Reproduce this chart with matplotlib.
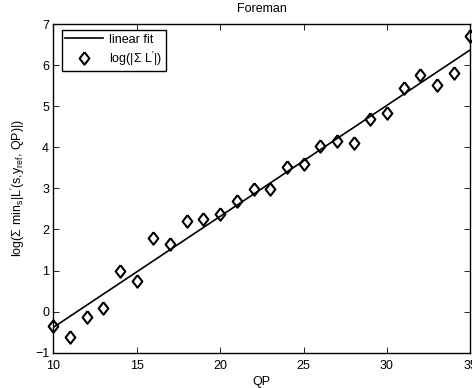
import numpy as np
import matplotlib
matplotlib.use('Agg')
import matplotlib.pyplot as plt

# values
qp = [10, 11, 12, 13, 14, 15, 16, 17, 18, 19, 20, 21, 22,
      23, 24, 25, 26, 27, 28, 29, 30, 31, 32, 33, 34, 35]
log_sum = [-0.35, -0.61, -0.14, 0.10, 0.99, 0.75, 1.80, 1.65, 2.21, 2.25,
           2.37, 2.70, 2.98, 2.98, 3.53, 3.59, 4.04, 4.16, 4.10, 4.69,
           4.83, 5.44, 5.76, 5.52, 5.80, 6.72]
x_ticks = [10, 15, 20, 25, 30, 35]
y_ticks = [-1, 0, 1, 2, 3, 4, 5, 6, 7]

plt.rcParams['font.family'] = ['Liberation Sans', 'DejaVu Sans']
plt.rcParams['mathtext.fontset'] = 'custom'
plt.rcParams['mathtext.rm'] = 'Liberation Sans'
plt.rcParams['mathtext.it'] = 'Liberation Sans'
plt.rcParams['font.size'] = 9

# MATLAB-like diamond (a bit taller than wide)
diamond = [(0, 1), (0.78, 0), (0, -1), (-0.78, 0), (0, 1)]

fig = plt.figure(figsize=(4.72, 3.88), dpi=100)
ax = fig.add_axes([0.113, 0.091, 0.8835, 0.847])

# linear fit of the points
coef = np.polyfit(qp, log_sum, 1)
xf = np.array([qp[0], qp[-1]])
ax.plot(xf, np.polyval(coef, xf), 'k-', lw=1.2, label='linear fit')
ax.plot(qp, log_sum, marker=diamond, ls='none', ms=9, mfc='none', mec='k', mew=1.5,
        clip_on=False, label=r"log(|Σ L$^{\prime}$|)")

ax.set_xlim(10, 35)
ax.set_ylim(-1, 7)
ax.set_xticks(x_ticks)
ax.set_yticks(y_ticks)
ax.tick_params(direction='in', top=True, right=True, length=4, width=0.6)
ax.tick_params(axis='x', pad=5)
ax.tick_params(axis='y', pad=3)
for s in ax.spines.values():
    s.set_linewidth(1.0)

ax.set_xlabel('QP', labelpad=3)
ax.set_ylabel(r"log(Σ min$_\mathrm{s}$|L$^{\prime}$(s,y$_\mathrm{ref}$, QP)|)", labelpad=6)
ax.set_title('Foreman', fontsize=9, pad=9)

leg = ax.legend(loc='upper left', bbox_to_anchor=(0.02, 0.982), borderaxespad=0,
                fancybox=False, edgecolor='k', framealpha=1, handlelength=3.0,
                handletextpad=0.5, borderpad=0.3, labelspacing=0.3)
leg.get_frame().set_linewidth(1.0)

fig.savefig('out.png', dpi=100, facecolor='white')
